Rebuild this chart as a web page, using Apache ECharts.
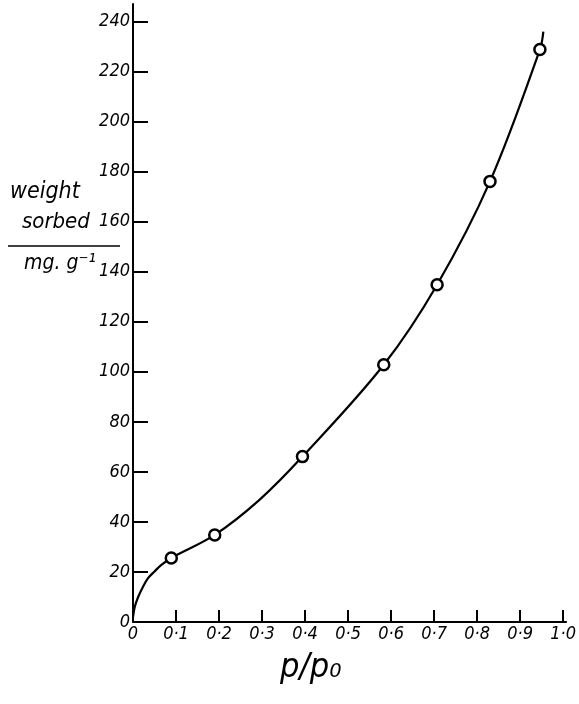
<!DOCTYPE html>
<html>
<head>
<meta charset="utf-8">
<script src="https://cdn.jsdelivr.net/npm/echarts@6/dist/echarts.min.js"></script>
<style>
html,body{margin:0;padding:0;background:#fff;}
#c{width:579px;height:704px;}
</style>
</head>
<body>
<div id="c"></div>
<script>
// Measured points (circles)
const pointX = [0.089, 0.190, 0.394, 0.583, 0.707, 0.830, 0.946];
const pointY = [25.6, 34.8, 66.1, 102.8, 134.8, 176.1, 228.8];
// Smooth curve
const curveX = [0.0, 0.004, 0.012, 0.023, 0.035, 0.050, 0.066, 0.089, 0.190, 0.294, 0.394, 0.583, 0.707, 0.830, 0.946, 0.954];
const curveY = [2.0, 6.0, 10.0, 14.0, 17.5, 20.2, 22.8, 25.6, 34.8, 48.8, 66.1, 102.8, 134.8, 176.1, 228.8, 236.0];
// Ticks
const xTicks = [0, 0.1, 0.2, 0.3, 0.4, 0.5, 0.6, 0.7, 0.8, 0.9, 1.0];
const yTicks = [0, 20, 40, 60, 80, 100, 120, 140, 160, 180, 200, 220, 240];

const font = '"DejaVu Sans Condensed", sans-serif';
const chart = echarts.init(document.getElementById('c'));
chart.setOption({
  animation: false,
  backgroundColor: '#fff',
  grid: {left: 133, right: 11, top: 4, bottom: 82, containLabel: false},
  xAxis: {
    type: 'value', min: 0, max: 1.007,
    splitLine: {show: false},
    axisLine: {onZero: false, lineStyle: {color: '#000', width: 2}},
    axisTick: {inside: true, length: 12, lineStyle: {color: '#000', width: 2}, customValues: xTicks},
    axisLabel: {
      customValues: xTicks, margin: 3, color: '#000', fontStyle: 'italic',
      fontFamily: font, fontSize: 18,
      formatter: v => v === 0 ? '0' : v.toFixed(1).replace('.', '·')
    }
  },
  yAxis: {
    type: 'value', min: 0, max: 247,
    splitLine: {show: false},
    axisLine: {onZero: false, lineStyle: {color: '#000', width: 2}},
    axisTick: {inside: true, length: 15, lineStyle: {color: '#000', width: 2}, customValues: yTicks},
    axisLabel: {
      customValues: yTicks, margin: 3, color: '#000', fontStyle: 'italic',
      fontFamily: font, fontSize: 18
    }
  },
  series: [
    {
      type: 'line', smooth: 0.35, symbol: 'none',
      data: curveX.map((x, i) => [x, curveY[i]]),
      lineStyle: {color: '#000', width: 2.2}
    },
    {
      type: 'scatter', symbol: 'circle', symbolSize: 11,
      data: pointX.map((x, i) => [x, pointY[i]]),
      itemStyle: {color: '#fff', opacity: 1, borderColor: '#000', borderWidth: 2.5},
      z: 5
    }
  ],
  graphic: [
    {type: 'text', x: 10, y: 192, style: {text: 'weight', font: 'italic 23px ' + font, fill: '#000', verticalAlign: 'middle'}},
    {type: 'text', x: 22, y: 222, style: {text: 'sorbed', font: 'italic 22px ' + font, fill: '#000', verticalAlign: 'middle'}},
    {type: 'line', shape: {x1: 8, y1: 246, x2: 120, y2: 246}, style: {stroke: '#000', lineWidth: 1.5}},
    {type: 'text', x: 24, y: 264, style: {text: 'mg. g⁻¹', font: 'italic 21px ' + font, fill: '#000', verticalAlign: 'middle'}},
    {type: 'text', x: 280, y: 668, style: {text: 'p/p₀', font: 'italic 34px ' + font, fill: '#000', verticalAlign: 'middle'}}
  ]
});
</script>
</body>
</html>
